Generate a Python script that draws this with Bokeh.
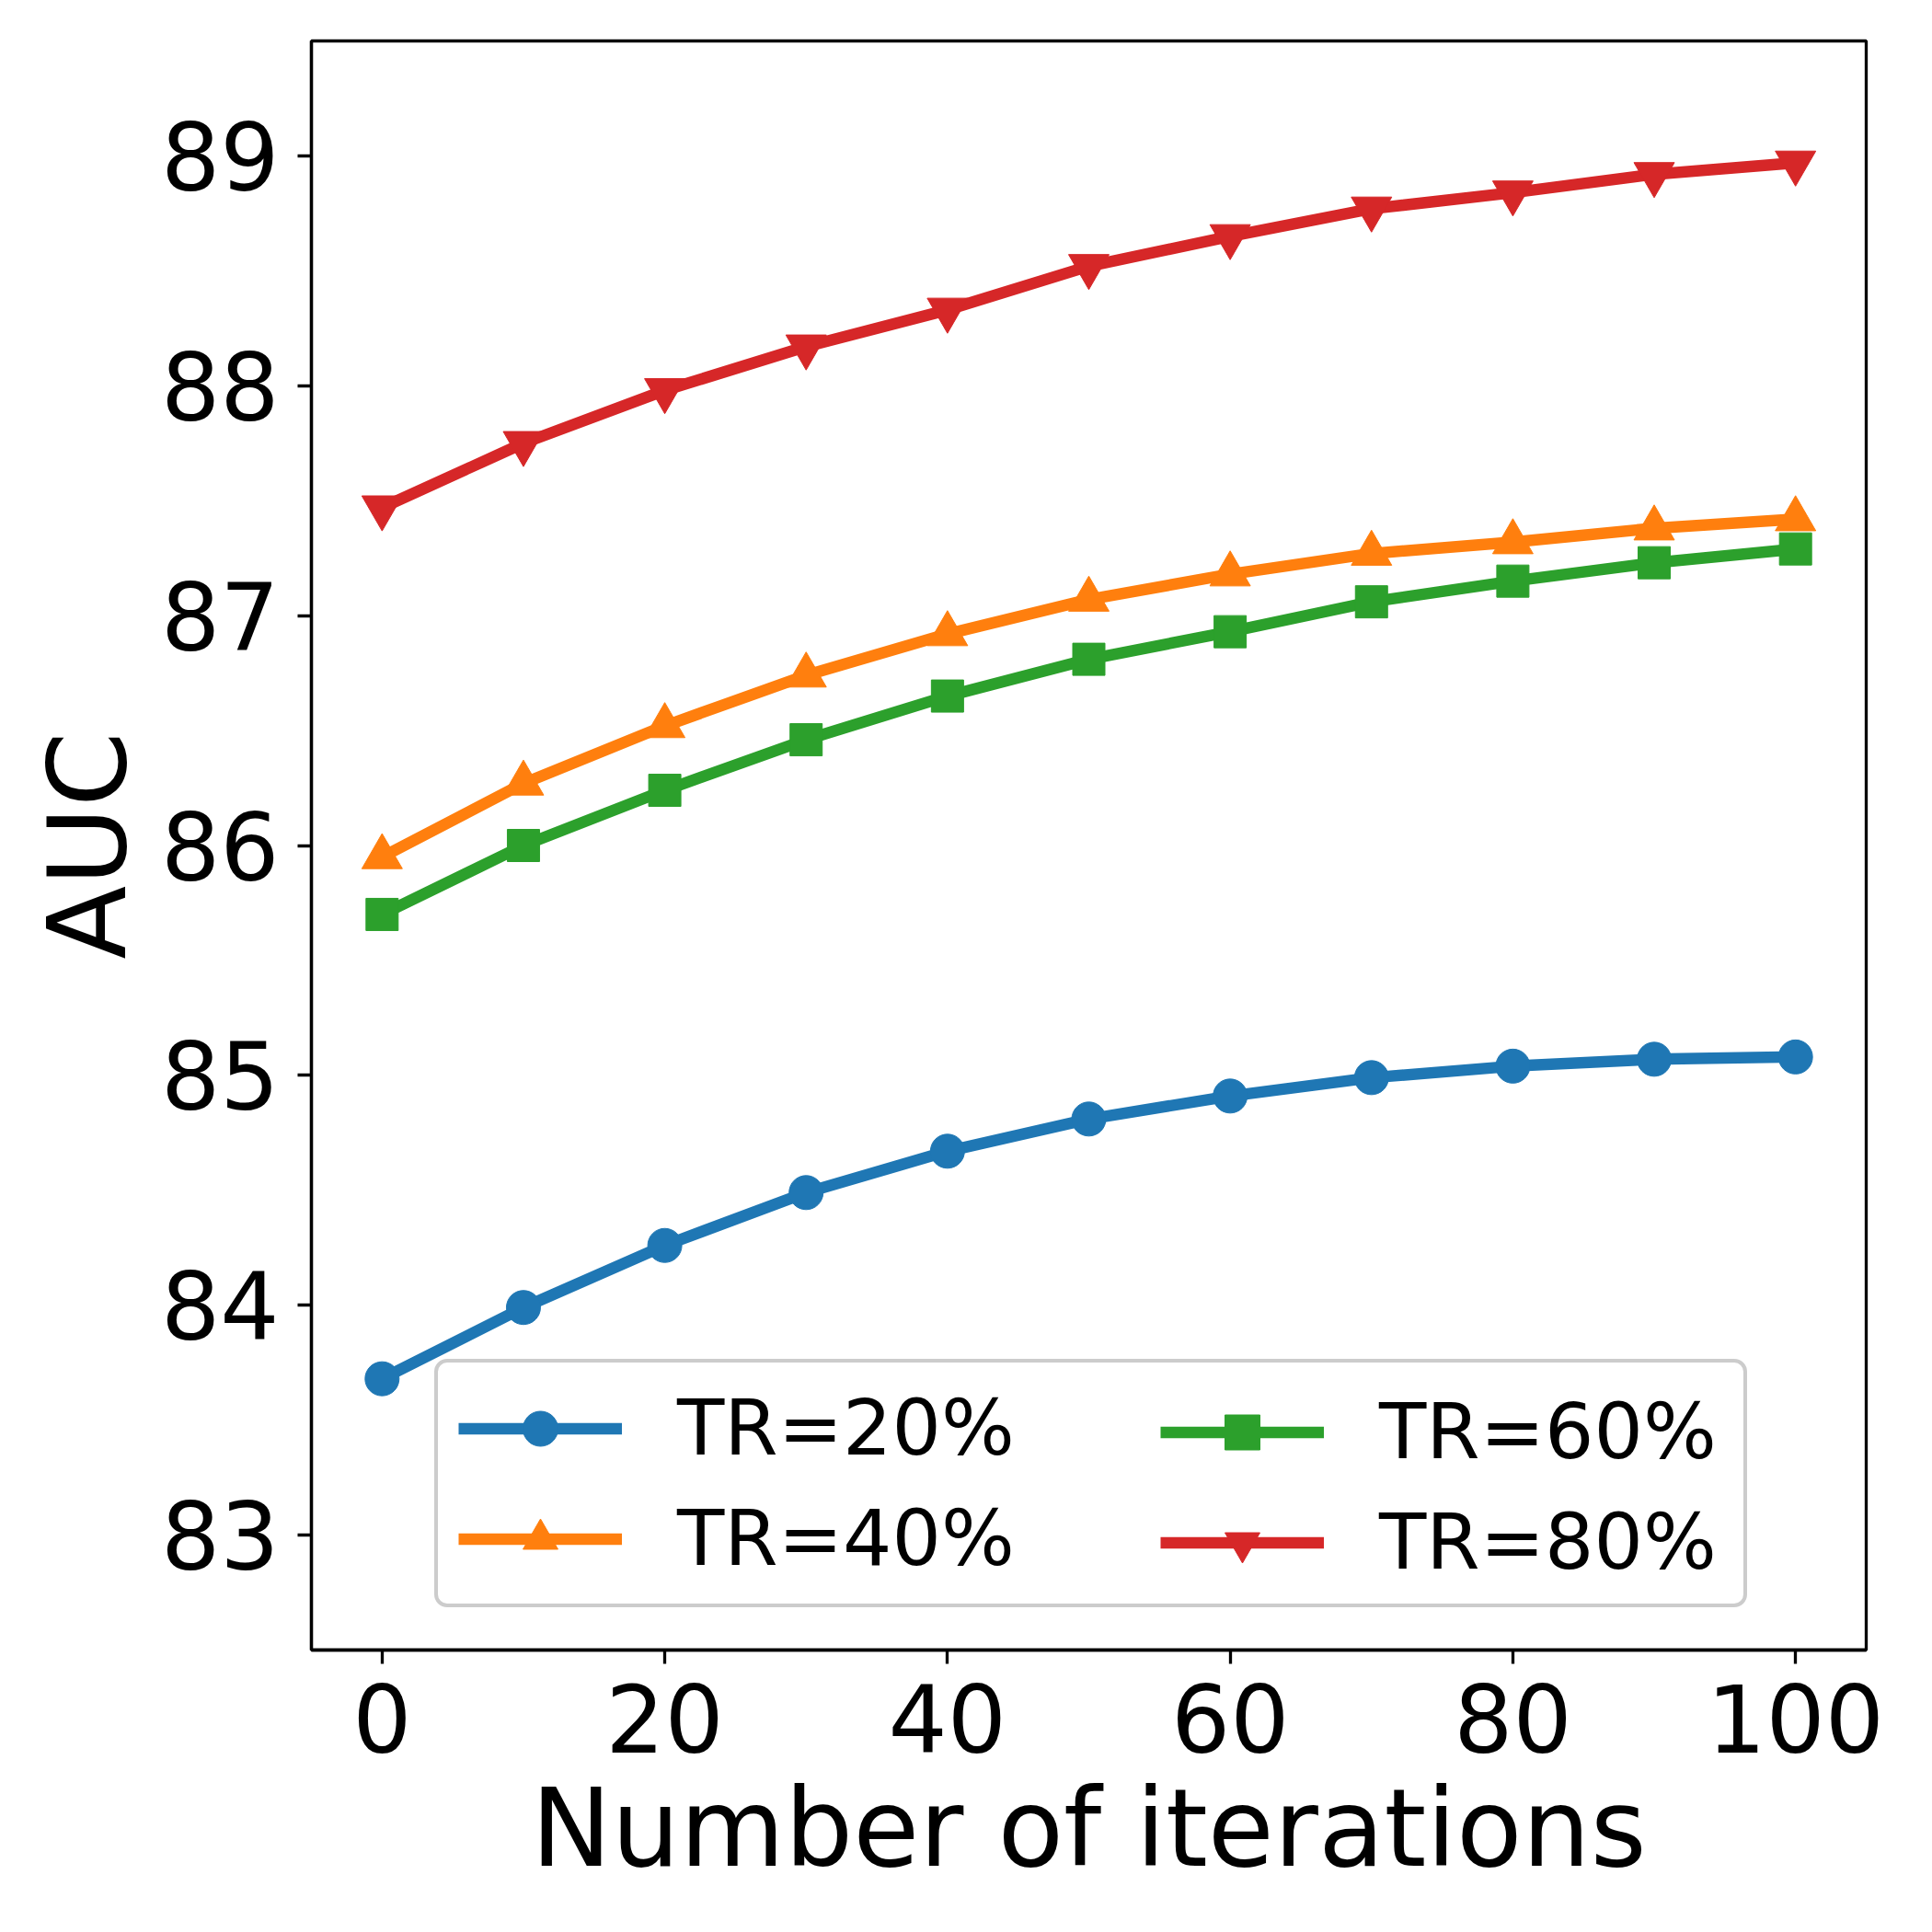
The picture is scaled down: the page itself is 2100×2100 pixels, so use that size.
from bokeh.plotting import figure
from bokeh.models import Legend, LegendItem, Range1d, FixedTicker
from bokeh.embed import file_html
from bokeh.resources import INLINE

iterations = [0, 10, 20, 30, 40, 50, 60, 70, 80, 90, 100]
tr20 = [83.68, 83.99, 84.26, 84.49, 84.67, 84.81, 84.91, 84.99, 85.04, 85.07, 85.08]
tr40 = [85.95, 86.27, 86.52, 86.74, 86.92, 87.07, 87.18, 87.27, 87.32, 87.38, 87.42]
tr60 = [85.70, 86.00, 86.24, 86.46, 86.65, 86.81, 86.93, 87.06, 87.15, 87.23, 87.29]
tr80 = [87.47, 87.75, 87.98, 88.17, 88.33, 88.52, 88.65, 88.77, 88.84, 88.92, 88.97]
series = [tr20, tr40, tr60, tr80]
labels = ["TR=20%", "TR=40%", "TR=60%", "TR=80%"]
colors = ["#1f77b4", "#ff7f0e", "#2ca02c", "#d62728"]
markers = ["circle", "triangle", "square", "inverted_triangle"]
marker_sizes = [37, 44, 35, 44]
x_ticks = [0, 20, 40, 60, 80, 100]
y_ticks = [83, 84, 85, 86, 87, 88, 89]

FONT = "DejaVu Sans"

p = figure(width=2084, height=2084, output_backend="svg", toolbar_location=None,
           x_range=Range1d(-5, 105), y_range=Range1d(82.5, 89.5),
           min_border_left=338, min_border_right=56, min_border_top=44, min_border_bottom=291)
p.background_fill_color = "white"
p.border_fill_color = "white"
p.grid.visible = False
p.outline_line_color = "black"
p.outline_line_width = 3.3

p.xaxis.ticker = FixedTicker(ticks=x_ticks)
p.yaxis.ticker = FixedTicker(ticks=y_ticks)
for ax in (p.xaxis, p.yaxis):
    ax.axis_line_color = "black"
    ax.axis_line_width = 3.3
    ax.major_tick_line_color = "black"
    ax.major_tick_line_width = 3.3
    ax.major_tick_out = 15
    ax.major_tick_in = 0
    ax.minor_tick_line_color = None
    ax.major_label_text_font = FONT
    ax.major_label_text_font_size = "101px"
    ax.major_label_text_font_style = "normal"
    ax.major_label_text_color = "black"
    ax.axis_label_text_font = FONT
    ax.axis_label_text_font_size = "117px"
    ax.axis_label_text_font_style = "normal"
    ax.axis_label_text_color = "black"
p.xaxis.axis_label = "Number of iterations"
p.yaxis.axis_label = "AUC"
p.xaxis.major_label_standoff = 21
p.yaxis.major_label_standoff = 20
p.xaxis.axis_label_standoff = 11
p.yaxis.axis_label_standoff = 8

items = []
for ys, lab, c, m, s in zip(series, labels, colors, markers, marker_sizes):
    r1 = p.line(iterations, ys, line_color=c, line_width=12.5)
    r2 = p.scatter(iterations, ys, marker=m, size=s, fill_color=c, line_color=c, line_width=1)
    items.append(LegendItem(label=lab, renderers=[r1, r2]))

common = dict(glyph_width=178, glyph_height=95, label_height=95, label_standoff=60,
              spacing=22, padding=22, margin=0,
              label_text_font=FONT, label_text_font_size="84px", label_text_color="black")

leg1 = Legend(items=items[:2], location=(134, 46), orientation="vertical",
              label_width=1137, border_line_color="#cccccc", border_line_width=4,
              border_line_alpha=1.0,
              background_fill_color="white", background_fill_alpha=0.8, **common)
leg2 = Legend(items=items[2:], location=(901, 46), orientation="vertical",
              border_line_alpha=0, background_fill_alpha=0, **common)
try:
    leg1.border_radius = 14
except Exception:
    pass
p.add_layout(leg1, "center")
p.add_layout(leg2, "center")

open("out.html", "w").write(file_html(p, INLINE))
